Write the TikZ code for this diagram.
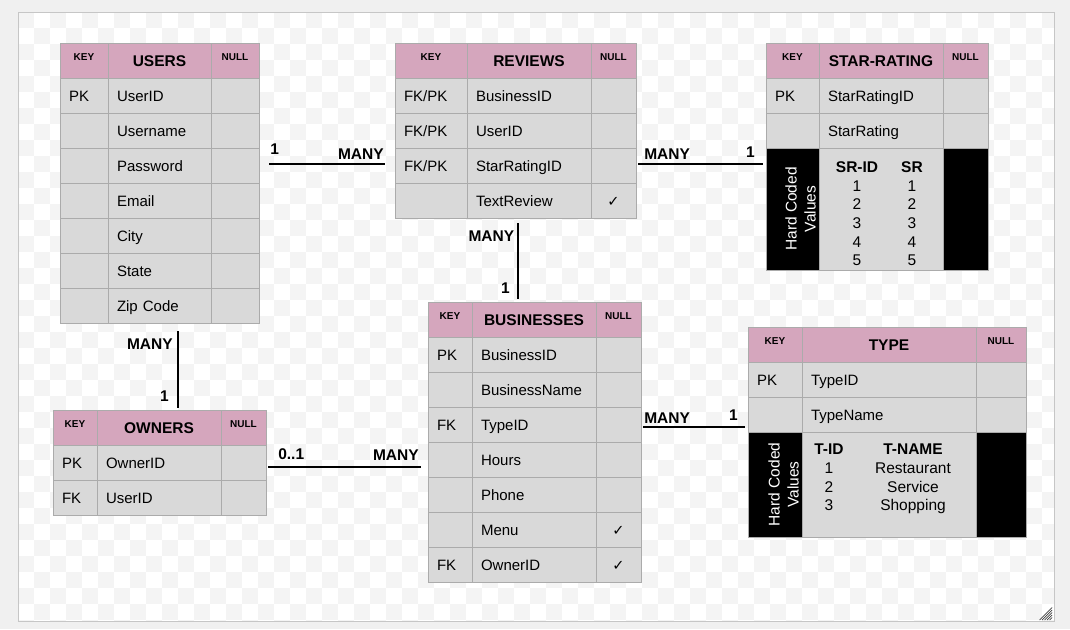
\documentclass[tikz,border=0pt]{standalone}
\usepackage{fontspec}
\setmainfont{Liberation Sans}
\newfontfamily\symfont{DejaVu Sans}
\usetikzlibrary{positioning}
\definecolor{headpink}{HTML}{D5A6BD}
\definecolor{rowgrey}{HTML}{D9D9D9}
\definecolor{gridgrey}{HTML}{ABABAB}
\definecolor{outergrey}{HTML}{F0F0F0}
\definecolor{checkgrey}{HTML}{F4F4F4}
\definecolor{framegrey}{HTML}{C6C6C6}
\newcommand\cellfont{\fontsize{15}{18}\selectfont\hyphenpenalty=10000\relax}
\newcommand\yesmark{{\symfont\fontsize{14.5}{16}\selectfont ✓}}
\begin{document}
\begin{tikzpicture}[x=1pt, y=-1pt,
  cell/.style={draw=gridgrey, line width=0.8pt, outer sep=0pt, minimum height=35pt, text height=12pt, text depth=0pt},
  keyhead/.style={cell, fill=headpink, inner sep=0pt, text height=0pt, font=\fontsize{10}{12}\selectfont\bfseries},
  titlehead/.style={cell, fill=headpink, inner sep=0pt, text height=11.5pt, font=\fontsize{15.5}{18}\selectfont\bfseries},
  keycell/.style={cell, fill=rowgrey, inner xsep=9pt, inner ysep=0pt, align=left, font=\cellfont},
  nullcell/.style={cell, fill=rowgrey, inner sep=0pt},
  hardside/.style={draw=gridgrey, line width=0.8pt, outer sep=0pt, inner sep=0pt, fill=black},
  hardmid/.style={hardside, fill=rowgrey},
  hardtext/.style={rotate=90, align=center, text=white, inner sep=0pt, anchor=south, font=\fontsize{15.5}{19}\selectfont},
  val/.style={inner sep=0pt, anchor=base, font=\fontsize{15.5}{18}\selectfont},
  rel/.style={line width=2.6pt},
  lbl/.style={inner sep=1pt, font=\fontsize{15.5}{18}\selectfont\bfseries},
  checker/.style={fill=checkgrey},
  gripline/.style={draw=black!75, line width=0.7pt}]
  \useasboundingbox (0,0) rectangle (1070,629);
  \fill[outergrey] (0,0) rectangle (1070,629);
  \fill[white] (18,12) rectangle (1054,621);
  \begin{scope}
    \clip (18,12) rectangle (1054,621);
    \foreach \j in {0,...,38}{%
      \pgfmathtruncatemacro\off{mod(\j,2)}
      \foreach \i in {0,2,...,64}{%
        \fill[checker] ({18+16*(\i+\off)},{12+16*\j}) rectangle ++(16,16);
      }
    }
  \end{scope}
  \draw[framegrey, line width=1pt] (18,12) rectangle (1054,621);
  \foreach \s in {2.5,5,...,12.5}{%
    \draw[gripline] (1052,{620-\s}) -- ({1052-\s},620);
  }

  % USERS
  \node[keyhead, minimum width=48pt, anchor=north west] (users-k0) at (60,43) {KEY};
  \node[titlehead, minimum width=103pt, right=0pt of users-k0] (users-n0) {USERS};
  \node[keyhead, minimum width=48pt, right=0pt of users-n0] (users-c0) {NULL};
  \foreach \k/\n/\c [count=\i from 1] in {PK/UserID/{}, {}/Username/{}, {}/Password/{}, {}/Email/{}, {}/City/{}, {}/State/{}, {}/Zip Code/{}}{%
    \pgfmathtruncatemacro\j{\i-1}
    \node[keycell, text width=30pt, below=0pt of users-k\j] (users-k\i) {\k};
    \node[keycell, text width=85pt, right=0pt of users-k\i] (users-n\i) {\n};
    \node[nullcell, minimum width=48pt, right=0pt of users-n\i] (users-c\i) {\c};
  }

  % REVIEWS
  \node[keyhead, minimum width=72pt, anchor=north west] (reviews-k0) at (395,43) {KEY};
  \node[titlehead, minimum width=124pt, right=0pt of reviews-k0] (reviews-n0) {REVIEWS};
  \node[keyhead, minimum width=45pt, right=0pt of reviews-n0] (reviews-c0) {NULL};
  \foreach \k/\n/\c [count=\i from 1] in {{FK/PK}/BusinessID/{}, {FK/PK}/UserID/{}, {FK/PK}/StarRatingID/{}, {}/TextReview/\yesmark}{%
    \pgfmathtruncatemacro\j{\i-1}
    \node[keycell, text width=54pt, below=0pt of reviews-k\j] (reviews-k\i) {\k};
    \node[keycell, text width=106pt, right=0pt of reviews-k\i] (reviews-n\i) {\n};
    \node[nullcell, minimum width=45pt, right=0pt of reviews-n\i] (reviews-c\i) {\c};
  }

  % STAR-RATING
  \node[keyhead, minimum width=53pt, anchor=north west] (star-k0) at (766,43) {KEY};
  \node[titlehead, minimum width=124pt, right=0pt of star-k0] (star-n0) {STAR-RATING};
  \node[keyhead, minimum width=45pt, right=0pt of star-n0] (star-c0) {NULL};
  \foreach \k/\n/\c [count=\i from 1] in {PK/StarRatingID/{}, {}/StarRating/{}}{%
    \pgfmathtruncatemacro\j{\i-1}
    \node[keycell, text width=35pt, below=0pt of star-k\j] (star-k\i) {\k};
    \node[keycell, text width=106pt, right=0pt of star-k\i] (star-n\i) {\n};
    \node[nullcell, minimum width=45pt, right=0pt of star-n\i] (star-c\i) {\c};
  }
  \node[hardside, minimum width=53pt, minimum height=122pt, below=0pt of star-k2] (star-hk) {};
  \node[hardmid, minimum width=124pt, minimum height=122pt, right=0pt of star-hk] (star-hn) {};
  \node[hardside, minimum width=45pt, minimum height=122pt, right=0pt of star-hn] (star-hc) {};
  \node[hardtext] (star-hl) at ([xshift=-3pt]star-hk.east) {Hard Coded\\Values};
  \foreach \a/\b [count=\i from 0] in {\textbf{SR-ID}/\textbf{SR}, 1/1, 2/2, 3/3, 4/4, 5/5}{%
    \node[val] (sr-a\i) at ([xshift=-24pt, yshift={-(24.3+18.7*\i)*1pt}]star-hn.north) {\a};
    \node[val] (sr-b\i) at ([xshift=31pt, yshift={-(24.3+18.7*\i)*1pt}]star-hn.north) {\b};
  }

  % BUSINESSES
  \node[keyhead, minimum width=44pt, anchor=north west] (bus-k0) at (428,302) {KEY};
  \node[titlehead, minimum width=124pt, right=0pt of bus-k0] (bus-n0) {BUSINESSES};
  \node[keyhead, minimum width=45pt, right=0pt of bus-n0] (bus-c0) {NULL};
  \foreach \k/\n/\c [count=\i from 1] in {PK/BusinessID/{}, {}/BusinessName/{}, FK/TypeID/{}, {}/Hours/{}, {}/Phone/{}, {}/Menu/\yesmark, FK/OwnerID/\yesmark}{%
    \pgfmathtruncatemacro\j{\i-1}
    \node[keycell, text width=26pt, below=0pt of bus-k\j] (bus-k\i) {\k};
    \node[keycell, text width=106pt, right=0pt of bus-k\i] (bus-n\i) {\n};
    \node[nullcell, minimum width=45pt, right=0pt of bus-n\i] (bus-c\i) {\c};
  }

  % TYPE
  \node[keyhead, minimum width=54pt, anchor=north west] (type-k0) at (748,327) {KEY};
  \node[titlehead, minimum width=174pt, right=0pt of type-k0] (type-n0) {TYPE};
  \node[keyhead, minimum width=50pt, right=0pt of type-n0] (type-c0) {NULL};
  \foreach \k/\n/\c [count=\i from 1] in {PK/TypeID/{}, {}/TypeName/{}}{%
    \pgfmathtruncatemacro\j{\i-1}
    \node[keycell, text width=36pt, below=0pt of type-k\j] (type-k\i) {\k};
    \node[keycell, text width=156pt, right=0pt of type-k\i] (type-n\i) {\n};
    \node[nullcell, minimum width=50pt, right=0pt of type-n\i] (type-c\i) {\c};
  }
  \node[hardside, minimum width=54pt, minimum height=105pt, below=0pt of type-k2] (type-hk) {};
  \node[hardmid, minimum width=174pt, minimum height=105pt, right=0pt of type-hk] (type-hn) {};
  \node[hardside, minimum width=50pt, minimum height=105pt, right=0pt of type-hn] (type-hc) {};
  \node[hardtext] (type-hl) at ([xshift=-3pt]type-hk.east) {Hard Coded\\Values};
  \foreach \a/\b [count=\i from 0] in {\textbf{T-ID}/\textbf{T-NAME}, 1/Restaurant, 2/Service, 3/Shopping}{%
    \node[val] (tn-a\i) at ([xshift=-60pt, yshift={-(22.6+18.7*\i)*1pt}]type-hn.north) {\a};
    \node[val] (tn-b\i) at ([xshift=24pt, yshift={-(22.6+18.7*\i)*1pt}]type-hn.north) {\b};
  }

  % OWNERS
  \node[keyhead, minimum width=44pt, anchor=north west] (own-k0) at (53,410) {KEY};
  \node[titlehead, minimum width=124pt, right=0pt of own-k0] (own-n0) {OWNERS};
  \node[keyhead, minimum width=45pt, right=0pt of own-n0] (own-c0) {NULL};
  \foreach \k/\n/\c [count=\i from 1] in {PK/OwnerID/{}, FK/UserID/{}}{%
    \pgfmathtruncatemacro\j{\i-1}
    \node[keycell, text width=26pt, below=0pt of own-k\j] (own-k\i) {\k};
    \node[keycell, text width=106pt, right=0pt of own-k\i] (own-n\i) {\n};
    \node[nullcell, minimum width=45pt, right=0pt of own-n\i] (own-c\i) {\c};
  }

  % relations
  \coordinate (ur-a) at ([xshift=10pt, yshift=1.5pt]users-c3.east);
  \coordinate (ur-b) at (ur-a -| reviews-k3.west);
  \draw[rel] (ur-a) -- ([xshift=-10pt]ur-b)
    node[lbl, pos=0, anchor=south west, xshift=-1pt, yshift=7pt] (ur-one) {1}
    node[lbl, pos=1, anchor=south east, xshift=1pt, yshift=2pt] (ur-many) {MANY};

  \coordinate (rs-a) at ([xshift=2pt, yshift=1.5pt]reviews-c3.east);
  \coordinate (rs-b) at (rs-a -| star-hk.west);
  \draw[rel] (rs-a) -- ([xshift=-3pt]rs-b)
    node[lbl, pos=0, anchor=south west, xshift=4pt, yshift=2.6pt] (rs-many) {MANY}
    node[lbl, pos=1, anchor=south east, xshift=-6pt, yshift=4.3pt] (rs-one) {1};

  \coordinate (rb-a) at ([xshift=-11pt, yshift=-5pt]reviews-n4.south);
  \coordinate (rb-b) at (rb-a |- bus-n0.north);
  \draw[rel] (rb-a) -- ([yshift=3pt]rb-b)
    node[lbl, pos=0, anchor=north east, xshift=-1.5pt, yshift=-6pt] (rb-many) {MANY}
    node[lbl, pos=1, anchor=south east, xshift=-6pt, yshift=3pt] (rb-one) {1};

  \coordinate (uo-a) at ([xshift=18.5pt, yshift=-8pt]users-n7.south);
  \coordinate (uo-b) at (uo-a |- own-n0.north);
  \draw[rel] (uo-a) -- ([yshift=2pt]uo-b)
    node[lbl, pos=0, anchor=north east, xshift=-3pt, yshift=-6pt] (uo-many) {MANY}
    node[lbl, pos=1, anchor=south east, xshift=-7pt, yshift=4pt] (uo-one) {1};

  \coordinate (ob-a) at ([xshift=2pt, yshift=-4.5pt]own-c1.east);
  \coordinate (ob-b) at (ob-a -| bus-k4.west);
  \draw[rel] (ob-a) -- ([xshift=-7pt]ob-b)
    node[lbl, pos=0, anchor=south west, xshift=8pt, yshift=4.6pt] (ob-zero) {0..1}
    node[lbl, pos=1, anchor=south east, xshift=0pt, yshift=4.6pt] (ob-many) {MANY};

  \coordinate (bt-a) at ([xshift=2pt, yshift=-2.5pt]bus-c3.east);
  \coordinate (bt-b) at (bt-a -| type-k2.west);
  \draw[rel] (bt-a) -- ([xshift=-3pt]bt-b)
    node[lbl, pos=0, anchor=south west, xshift=-1pt, yshift=1pt] (bt-many) {MANY}
    node[lbl, pos=1, anchor=south east, xshift=-5pt, yshift=4.3pt] (bt-one) {1};
\end{tikzpicture}
\end{document}
